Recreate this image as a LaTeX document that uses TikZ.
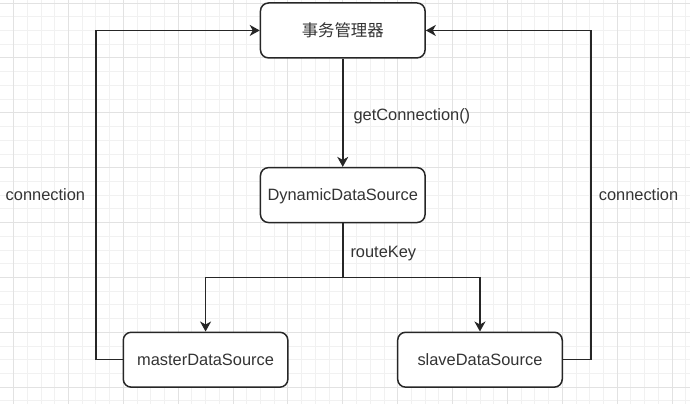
\documentclass[tikz,border=0pt]{standalone}
\usepackage{fontspec}
\setmainfont{Liberation Sans}
\newfontfamily\cjk{Noto Sans CJK SC}
\usetikzlibrary{arrows.meta}
\definecolor{gridminor}{HTML}{F1F1F1}
\definecolor{gridmajor}{HTML}{E2E2E2}
\definecolor{ink}{HTML}{333333}
\tikzset{
  block/.style={
    draw=black!85, line width=1.5pt, rounded corners=8pt, fill=white,
    minimum width=164.6pt, minimum height=54.9pt, inner sep=0pt,
    text height=11.7pt, text depth=0pt,
    text=ink, font=\fontsize{16.4}{19}\selectfont
  },
  link/.style={draw=black!85, line width=1.5pt},
  tag/.style={inner sep=0pt, text height=11.7pt, text depth=0pt,
    text=ink, font=\fontsize{16.4}{19}\selectfont}
}

\begin{document}
\begin{tikzpicture}[x=13.72pt, y=-13.72pt, >={Stealth[length=10pt,width=11pt,inset=3pt]}]
\useasboundingbox (-0.984,-0.219) rectangle (49.31,29.23);
\fill[white] (-0.984,-0.219) rectangle (49.31,29.23);
% grid
\foreach \k in {-1,...,49} {
  \draw[gridminor, line width=0.8pt] (\k,-0.219) -- (\k,29.23);
}
\foreach \k in {0,...,29} {
  \draw[gridminor, line width=0.8pt] (-0.984,\k) -- (49.31,\k);
}
\foreach \k in {0,4,...,48} {
  \draw[gridmajor, line width=0.8pt] (\k,-0.219) -- (\k,29.23);
}
\foreach \k in {0,4,...,28} {
  \draw[gridmajor, line width=0.8pt] (-0.984,\k) -- (49.31,\k);
}

\node[block] (mgr) at (24,2) {\cjk 事务管理器};
\node[block] (dyn) at (24,14) {DynamicDataSource};
\node[block] (master) at (14,26) {masterDataSource};
\node[block] (slave) at (34,26) {slaveDataSource};

\coordinate (fork) at (24,20);
\coordinate (lbend) at (6,2);
\coordinate (rbend) at (42.1,2);

\draw[link,->] (mgr) -- node[tag, right=10pt, yshift=-2pt] {getConnection()} (dyn);
\draw[link] (dyn) -- node[tag, right=7pt, yshift=-1.5pt] {routeKey} (fork);
\draw[link,->] (fork) -| (master);
\draw[link,->] (fork) -| (slave);
\draw[link,->] (master) -| node[pos=0.75, tag, left=10pt] {connection} (lbend) -- (mgr);
\draw[link,->] (slave) -| node[pos=0.75, tag, right=7pt] {connection} (rbend) -- (mgr);
\end{tikzpicture}
\end{document}
